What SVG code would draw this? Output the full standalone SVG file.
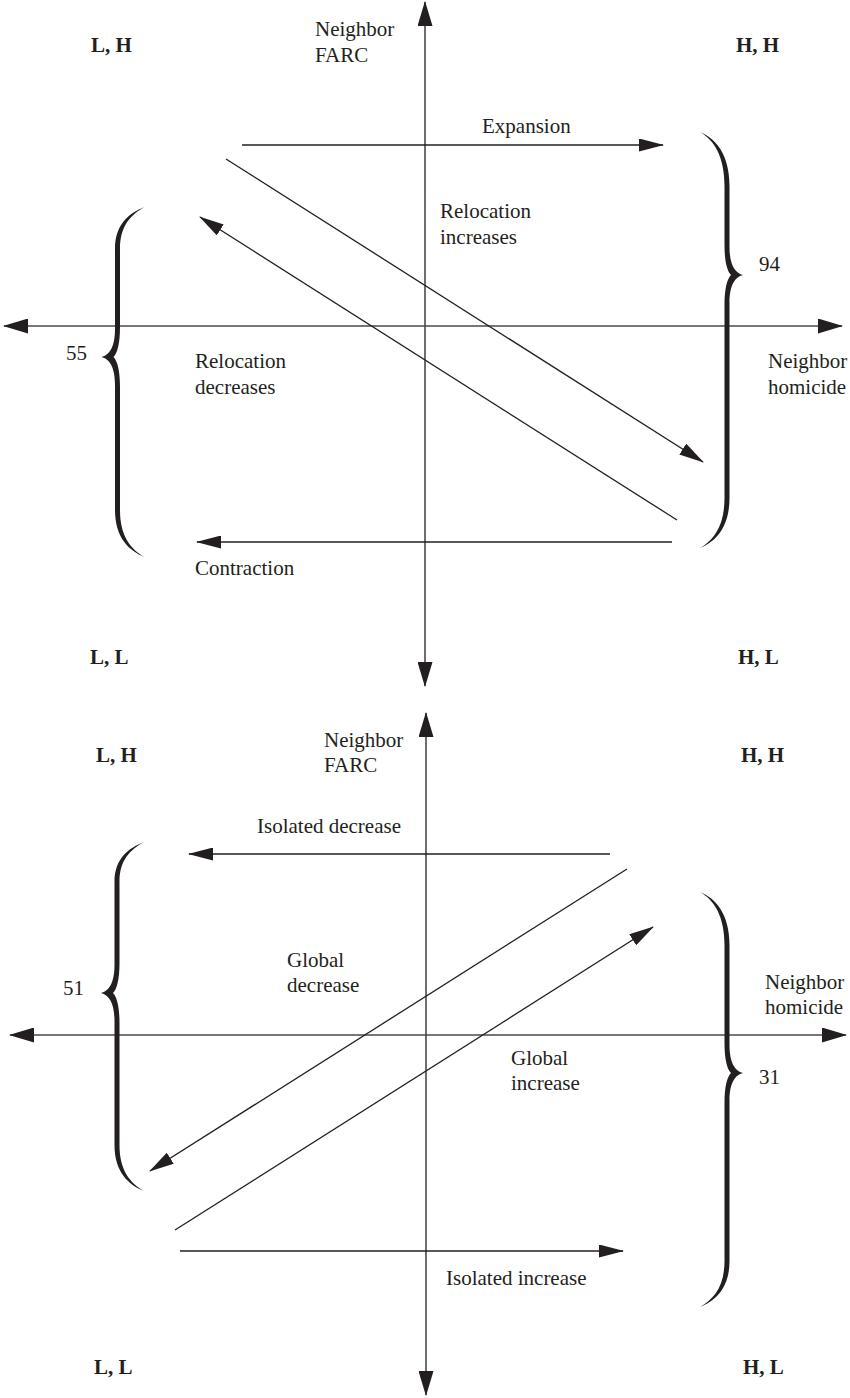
<svg xmlns="http://www.w3.org/2000/svg" width="850" height="1398" viewBox="0 0 850 1398">
<style>
.t{font-family:"Liberation Serif","Times New Roman",Times,"DejaVu Serif","Noto Serif",serif;font-size:21px;fill:#231f20}
.b{font-weight:bold}
.ax{stroke:#4a4a4a;stroke-width:1.6;fill:none}
.ar{stroke:#231f20;stroke-width:1.3;fill:none}
.br{fill:#231f20;stroke:none}
</style>
<defs>
<marker id="ah" markerUnits="userSpaceOnUse" viewBox="0 0 25 13" markerWidth="25" markerHeight="13" refX="24" refY="6.5" orient="auto-start-reverse">
<path d="M0,0 L25,6.5 L0,13 Z" fill="#231f20"/>
</marker>
<marker id="axh" markerUnits="userSpaceOnUse" viewBox="0 0 25 15" markerWidth="25" markerHeight="15" refX="24" refY="7.5" orient="auto-start-reverse">
<path d="M0,0 L25,7.5 L0,15 Z" fill="#231f20"/>
</marker>
</defs>
<rect width="850" height="1398" fill="#fff"/>

<g id="connectors">
<line class="ax" x1="425" y1="2" x2="425" y2="686" marker-start="url(#axh)" marker-end="url(#axh)"/>
<line class="ax" x1="4" y1="326" x2="842" y2="326" marker-start="url(#axh)" marker-end="url(#axh)"/>
<line class="ar" x1="242" y1="145" x2="663" y2="145" marker-end="url(#ah)"/>
<line class="ar" x1="226" y1="159" x2="703" y2="462" marker-end="url(#ah)"/>
<line class="ar" x1="677" y1="520" x2="200" y2="217" marker-end="url(#ah)"/>
<line class="ar" x1="672" y1="542" x2="197" y2="542" marker-end="url(#ah)"/>

<line class="ax" x1="426" y1="713" x2="426" y2="1395" marker-start="url(#axh)" marker-end="url(#axh)"/>
<line class="ax" x1="10" y1="1035" x2="846" y2="1035" marker-start="url(#axh)" marker-end="url(#axh)"/>
<line class="ar" x1="610" y1="854" x2="189" y2="854" marker-end="url(#ah)"/>
<line class="ar" x1="627" y1="869" x2="150" y2="1171" marker-end="url(#ah)"/>
<line class="ar" x1="175" y1="1230" x2="653" y2="927" marker-end="url(#ah)"/>
<line class="ar" x1="180" y1="1251" x2="623" y2="1251" marker-end="url(#ah)"/>
</g>

<g id="top-panel">
<g id="q-lh-1"><text class="t b" x="91" y="52">L, H</text></g>
<g id="q-hh-1"><text class="t b" x="736" y="52">H, H</text></g>
<g id="q-ll-1"><text class="t b" x="90" y="664">L, L</text></g>
<g id="q-hl-1"><text class="t b" x="738" y="664">H, L</text></g>
<g id="y-label-1"><text class="t" x="315" y="36">Neighbor<tspan x="315" dy="26">FARC</tspan></text></g>
<g id="x-label-1"><text class="t" x="768" y="368">Neighbor<tspan x="768" dy="26">homicide</tspan></text></g>
<g id="expansion"><text class="t" x="482" y="133">Expansion</text></g>
<g id="relocation-increases"><text class="t" x="440" y="218">Relocation<tspan x="440" dy="26">increases</tspan></text></g>
<g id="relocation-decreases"><text class="t" x="195" y="368">Relocation<tspan x="195" dy="26">decreases</tspan></text></g>
<g id="contraction"><text class="t" x="195" y="575">Contraction</text></g>
<g id="brace-55">
<path class="br" d="M144.5,207 C129.5,213 115,223.8 115,249 L115,329 C115,347 109.5,355 101.5,357 C109.5,359 115,367 115,385 L115,510 C115,538.2 129.5,551 144.5,557 C130.5,549 120,535.9 120,510 L120,387 C120,371 117.5,361 113.5,357 C117.5,353 120,343 120,327 L120,249 C120,225.9 130.5,215 144.5,207 Z"/>
<text class="t" x="66" y="360">55</text>
</g>
<g id="brace-94">
<path class="br" d="M700,132 C715,138 729.5,153.6 729.5,186 L729.5,247 C729.5,265 735,273 743,275 C735,277 729.5,285 729.5,303 L729.5,498 C729.5,528 715,542 700,548 C714,540 724.5,525.5 724.5,498 L724.5,305 C724.5,289 727,279 731,275 C727,271 724.5,261 724.5,245 L724.5,186 C724.5,156.3 714,140 700,132 Z"/>
<text class="t" x="759" y="271">94</text>
</g>
</g>

<g id="bottom-panel">
<g id="q-lh-2"><text class="t b" x="96" y="762">L, H</text></g>
<g id="q-hh-2"><text class="t b" x="741" y="762">H, H</text></g>
<g id="q-ll-2"><text class="t b" x="94" y="1374">L, L</text></g>
<g id="q-hl-2"><text class="t b" x="743" y="1374">H, L</text></g>
<g id="y-label-2"><text class="t" x="324" y="747">Neighbor<tspan x="324" dy="25">FARC</tspan></text></g>
<g id="x-label-2"><text class="t" x="765" y="989">Neighbor<tspan x="765" dy="25">homicide</tspan></text></g>
<g id="isolated-decrease"><text class="t" x="257" y="833">Isolated decrease</text></g>
<g id="global-decrease"><text class="t" x="287" y="967">Global<tspan x="287" dy="25">decrease</tspan></text></g>
<g id="global-increase"><text class="t" x="511" y="1065">Global<tspan x="511" dy="25">increase</tspan></text></g>
<g id="isolated-increase"><text class="t" x="446" y="1285">Isolated increase</text></g>
<g id="brace-51">
<path class="br" d="M144,842 C129,848 114.5,858 114.5,882 L114.5,965 C114.5,983 109,991 101,993 C109,995 114.5,1003 114.5,1021 L114.5,1145 C114.5,1172.6 129,1185 144,1191 C130,1183 119.5,1170.3 119.5,1145 L119.5,1023 C119.5,1007 117,997 113,993 C117,989 119.5,979 119.5,963 L119.5,882 C119.5,860 130,850 144,842 Z"/>
<text class="t" x="63" y="995">51</text>
</g>
<g id="brace-31">
<path class="br" d="M700,892 C715,898 729.5,913.2 729.5,945 L729.5,1045 C729.5,1063 735,1071 743,1073 C735,1075 729.5,1083 729.5,1101 L729.5,1261 C729.5,1288.6 715,1301 700,1307 C714,1299 724.5,1286.3 724.5,1261 L724.5,1103 C724.5,1087 727,1077 731,1073 C727,1069 724.5,1059 724.5,1043 L724.5,945 C724.5,915.9 714,900 700,892 Z"/>
<text class="t" x="759" y="1084">31</text>
</g>
</g>
</svg>
